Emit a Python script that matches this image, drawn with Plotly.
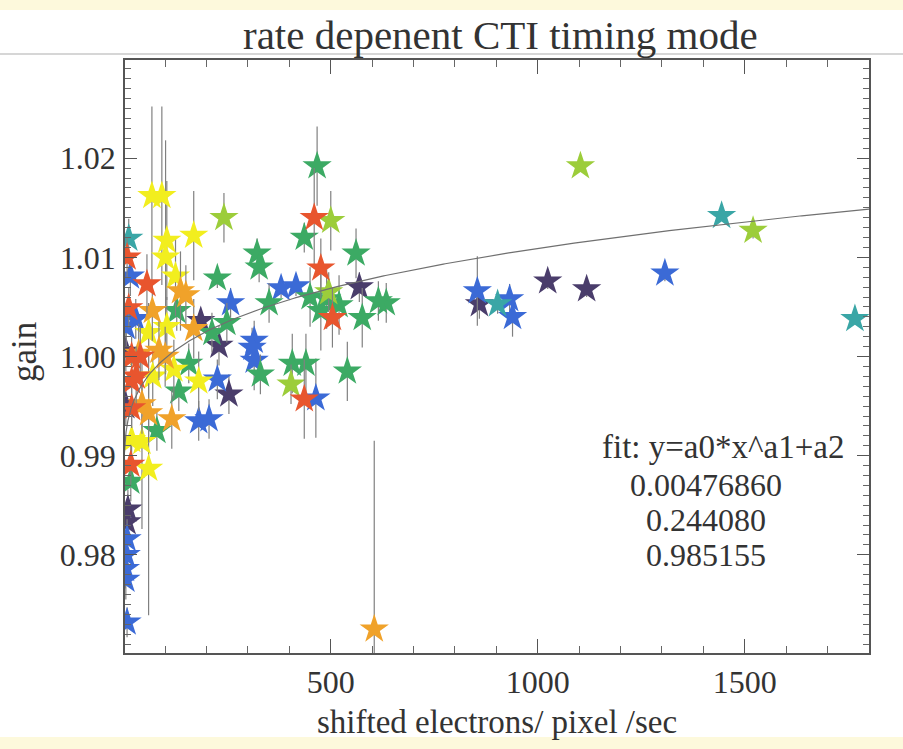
import numpy as np
import plotly.graph_objects as go

# ---------------- data ----------------
dark_x   = [1024, 1118, 859, 569, 186, 230, 254, 10, 8, 5, 5]
dark_y   = [1.0076, 1.0068, 1.0053, 1.0070, 1.0036, 1.0011, 0.9962, 0.9846, 0.9833, 1.0005, 0.9950]
dark_err = [0.0008, 0.0008, 0.0015, 0.0015, 0.0010, 0.0020, 0.0020, 0.0020, 0.0020, 0.0020, 0.0020]

blue_x   = [854, 932, 939, 1307, 380, 416, 258, 315, 315, 464, 226, 181, 206, 16, 29, 310, 8, 6, 4, 8, 5, 6]
blue_y   = [1.0066, 1.0058, 1.0040, 1.0084, 1.0069, 1.0071, 1.0054, 1.0016, 0.9996, 0.9958, 0.9977, 0.9935, 0.9937,
            1.0081, 1.0038, 1.0009, 0.9816, 0.9800, 0.9786, 0.9732, 0.9775, 1.0030]
blue_err = [0.0035, 0.0015, 0.0020, 0.0008, 0.0010, 0.0010, 0.0015, 0.0020, 0.0030, 0.0040, 0.0020, 0.0020, 0.0020,
            0.0020, 0.0020, 0.0020, 0.0020, 0.0020, 0.0020, 0.0015, 0.0020, 0.0020]

teal_x   = [1444, 1766, 903, 12]
teal_y   = [1.0142, 1.0038, 1.0053, 1.0119]
teal_err = [0.0005, 0.0005, 0.0010, 0.0020]

green_x   = [467, 436, 322, 327, 561, 226, 351, 476, 450, 490, 520, 634, 615, 576, 330, 407, 440, 540,
             128, 213, 249, 157, 133, 80, 17]
green_y   = [1.0192, 1.0120, 1.0104, 1.0090, 1.0104, 1.0079, 1.0054, 1.0046, 1.0060, 1.0058, 1.0052, 1.0054,
             1.0056, 1.0039, 0.9982, 0.9993, 0.9993, 0.9985, 1.0046, 1.0024, 1.0034, 0.9993, 0.9965, 0.9925, 0.9874]
green_err = [0.0040, 0.0015, 0.0015, 0.0015, 0.0025, 0.0010, 0.0020, 0.0040, 0.0030, 0.0030, 0.0030, 0.0020,
             0.0020, 0.0030, 0.0020, 0.0030, 0.0030, 0.0030, 0.0020, 0.0020, 0.0020, 0.0020, 0.0020, 0.0020, 0.0020]

lime_x   = [1103, 1520, 500, 242, 404, 495]
lime_y   = [1.0192, 1.0127, 1.0137, 1.0140, 0.9972, 1.0065]
lime_err = [0.0000, 0.0008, 0.0030, 0.0025, 0.0020, 0.0020]

yellow_x   = [68, 92, 169, 104, 101, 125, 60, 121, 181, 19, 44, 60, 104, 70]
yellow_y   = [1.0162, 1.0162, 1.0122, 1.0117, 1.0100, 1.0081, 1.0024, 0.9987, 0.9975, 0.9916, 0.9914, 0.9887, 1.0030, 0.9980]
yellow_err = [0.0090, 0.0090, 0.0045, 0.0060, 0.0118, 0.0040, 0.0030, 0.0030, 0.0030, 0.0030, 0.0088, 0.0148, 0.0030, 0.0030]

orange_x   = [605, 137, 150, 69, 169, 85, 36, 44, 60, 116, 100]
orange_y   = [0.9725, 1.0066, 1.0062, 1.0046, 1.0028, 1.0006, 1.0003, 0.9952, 0.9943, 0.9937, 1.0000]
orange_err = [0.0190, 0.0040, 0.0030, 0.0030, 0.0030, 0.0030, 0.0030, 0.0030, 0.0030, 0.0030, 0.0030]

red_x   = [460, 476, 504, 436, 8, 56, 12, 19, 19, 19, 17, 40, 30]
red_y   = [1.0140, 1.0089, 1.0039, 0.9957, 1.0100, 1.0073, 1.0049, 1.0000, 0.9975, 0.9948, 0.9891, 1.0000, 0.9980]
red_err = [0.0050, 0.0030, 0.0030, 0.0040, 0.0020, 0.0030, 0.0020, 0.0020, 0.0020, 0.0020, 0.0020, 0.0030, 0.0030]

FIT_A0, FIT_A1, FIT_A2 = 0.00476860, 0.244080, 0.985155
fit_label = "fit: y=a0*x^a1+a2"
fit_params = ["0.00476860", "0.244080", "0.985155"]

x_ticks = [500, 1000, 1500]
y_ticks = [0.98, 0.99, 1.00, 1.01, 1.02]
y_ticktext = ["0.98", "0.99", "1.00", "1.01", "1.02"]

# ---------------- figure ----------------
SERIF = "Liberation Serif, Times New Roman, serif"
TXT = "#333333"
groups = [
    (dark_x, dark_y, dark_err, "#4a3d6b"),
    (blue_x, blue_y, blue_err, "#3b6ad6"),
    (teal_x, teal_y, teal_err, "#3aa6a6"),
    (green_x, green_y, green_err, "#3caa64"),
    (lime_x, lime_y, lime_err, "#9ccd3a"),
    (yellow_x, yellow_y, yellow_err, "#f2ee1e"),
    (orange_x, orange_y, orange_err, "#f0a22a"),
    (red_x, red_y, red_err, "#e8552e"),
]

fig = go.Figure()
for gx, gy, ge, col in groups:
    fig.add_trace(go.Scatter(
        x=gx, y=gy, mode="markers",
        marker=dict(symbol="star", size=22, color=col, line=dict(width=0)),
        error_y=dict(type="data", array=ge, visible=True, color="#808080", thickness=1.2, width=0),
        showlegend=False, cliponaxis=True,
    ))

fit_x = np.linspace(1, 1800, 400)
fit_y = FIT_A0 * fit_x ** FIT_A1 + FIT_A2
fig.add_trace(go.Scatter(x=fit_x, y=fit_y, mode="lines",
                         line=dict(color="#707070", width=1.2), showlegend=False))

L, R, T, B = 125, 34, 60, 96
W, H = 903, 749
pw, ph = W - L - R, H - T - B


def px2paper_x(px):
    return (px - L) / pw


def px2paper_y(py):
    return (H - B - py) / ph


axis_common = dict(
    showgrid=False, zeroline=False, showline=True, linecolor="#555555", linewidth=1.5,
    mirror="allticks", ticks="inside", tickcolor="#555555",
    tickfont=dict(family=SERIF, size=32, color=TXT),
)

fig.update_xaxes(range=[3, 1800], tickvals=x_ticks, ticklen=14, tickwidth=1.2,
                 minor=dict(dtick=100, tick0=0, ticklen=7, ticks="inside", tickcolor="#666666"),
                 ticklabelstandoff=0, **axis_common)
fig.update_yaxes(range=[0.9701, 1.0299], tickvals=y_ticks, ticktext=y_ticktext, ticklen=12, tickwidth=1.2,
                 minor=dict(dtick=0.001, tick0=0.97, ticklen=6, ticks="inside", tickcolor="#666666"),
                 ticklabelstandoff=1, **axis_common)

annotations = [
    dict(text="rate depenent CTI timing mode", xref="paper", yref="paper",
         x=px2paper_x(500), y=px2paper_y(35), xanchor="center", yanchor="middle",
         showarrow=False, font=dict(family=SERIF, size=41, color=TXT)),
    dict(text="shifted electrons/ pixel /sec", xref="paper", yref="paper",
         x=px2paper_x(497), y=px2paper_y(722), xanchor="center", yanchor="middle",
         showarrow=False, font=dict(family=SERIF, size=33, color=TXT)),
    dict(text="gain", xref="paper", yref="paper", textangle=-90,
         x=px2paper_x(24), y=px2paper_y(352), xanchor="center", yanchor="middle",
         showarrow=False, font=dict(family=SERIF, size=35, color=TXT)),
    dict(text=fit_label, xref="paper", yref="paper",
         x=px2paper_x(723), y=px2paper_y(447), xanchor="center", yanchor="middle",
         showarrow=False, font=dict(family=SERIF, size=33, color=TXT)),
]
for i, t in enumerate(fit_params):
    annotations.append(dict(text=t, xref="paper", yref="paper",
                            x=px2paper_x(706), y=px2paper_y(485 + 35 * i), xanchor="center", yanchor="middle",
                            showarrow=False, font=dict(family=SERIF, size=32, color=TXT)))

shapes = [
    dict(type="rect", xref="paper", yref="paper", x0=px2paper_x(0), x1=px2paper_x(W),
         y0=px2paper_y(10), y1=px2paper_y(0), fillcolor="#fdf9dc", line=dict(width=0), layer="below"),
    dict(type="rect", xref="paper", yref="paper", x0=px2paper_x(0), x1=px2paper_x(W),
         y0=px2paper_y(H), y1=px2paper_y(737), fillcolor="#fdf9dc", line=dict(width=0), layer="below"),
    dict(type="line", xref="paper", yref="paper", x0=px2paper_x(0), x1=px2paper_x(W),
         y0=px2paper_y(54), y1=px2paper_y(54), line=dict(color="#c8c8c8", width=1.5), layer="below"),
]

fig.update_layout(
    width=W, height=H, margin=dict(l=L, r=R, t=T, b=B),
    paper_bgcolor="white", plot_bgcolor="white",
    annotations=annotations, shapes=shapes, showlegend=False,
)

fig.write_html("out.html")
